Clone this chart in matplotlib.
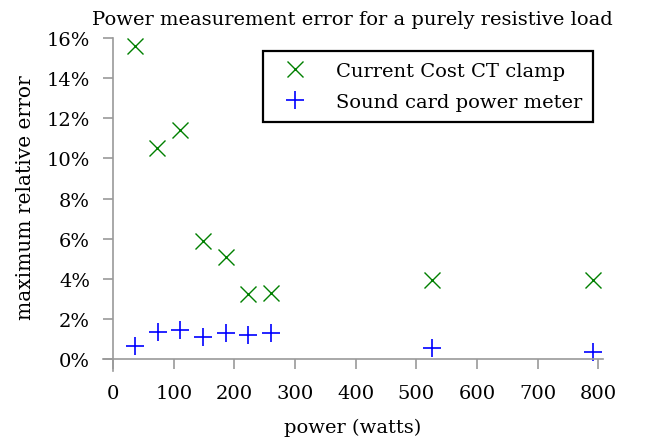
import matplotlib
matplotlib.use("Agg")
import matplotlib.pyplot as plt
from matplotlib.ticker import FuncFormatter

# Data
power_cc = [36, 73, 111, 149, 186, 223, 260, 525, 791]
err_cc = [15.6, 10.53, 11.4, 5.9, 5.08, 3.22, 3.28, 3.95, 3.95]
power_sc = [37, 74, 111, 149, 186, 223, 261, 525, 791]
err_sc = [0.63, 1.33, 1.45, 1.08, 1.3, 1.22, 1.3, 0.53, 0.37]
xticks = [0, 100, 200, 300, 400, 500, 600, 700, 800]
yticks = [0, 2, 4, 6, 8, 10, 12, 14, 16]

plt.rcParams['font.family'] = ['DejaVu Serif']
plt.rcParams['mathtext.fontset'] = 'dejavuserif'

W, H = 647, 439
fig = plt.figure(figsize=(W / 100, H / 100), dpi=100)
left, right = 103.0, 602.7
top, bottom = 39.0, 371.7
ax = fig.add_axes([left / W, 1 - bottom / H, (right - left) / W, (bottom - top) / H])

ax.plot(power_cc, err_cc, linestyle='none', marker='x', markersize=12,
        markeredgewidth=1.0, color='#008000', label='Current Cost CT clamp')
ax.plot(power_sc, err_sc, linestyle='none', marker='+', markersize=13,
        markeredgewidth=1.2, color='#0000ff', label='Sound card power meter')

ax.set_xlim(-16.5, 807)
ax.set_ylim(-0.58, 16)

for s in ['top', 'right']:
    ax.spines[s].set_visible(False)
ax.spines['left'].set_position(('data', 0))
ax.spines['bottom'].set_position(('data', 0))
gray = '#9a9a9a'
for s in ['left', 'bottom']:
    ax.spines[s].set_color(gray)
    ax.spines[s].set_linewidth(1.2)

ax.set_xticks(xticks)
ax.set_yticks(yticks)
ax.yaxis.set_major_formatter(FuncFormatter(lambda v, p: f"{int(v)}%"))
ax.tick_params(axis='both', direction='out', length=7.5, width=1.2, color=gray,
               labelsize=14, labelcolor='black')
ax.tick_params(axis='y', pad=9)
ax.tick_params(axis='x', pad=10.5)

ax.set_xlabel('power (watts)', fontsize=14)
ax.xaxis.set_label_coords(0.5, -0.14)
ax.set_ylabel('maximum relative error', fontsize=14.5)
ax.yaxis.set_label_coords(-0.137, 0.5236)
ax.set_title('Power measurement error for a purely resistive load', fontsize=14, pad=10)

leg = ax.legend(loc='upper right', bbox_to_anchor=(593 / W, 1 - 52 / H),
                bbox_transform=fig.transFigure, fontsize=14, frameon=True,
                fancybox=False, edgecolor='black', framealpha=1,
                borderpad=0.55, borderaxespad=0, handlelength=2.2,
                handletextpad=1.0, labelspacing=0.68)
leg.get_frame().set_linewidth(1.6)

fig.savefig('out.png', dpi=100)
